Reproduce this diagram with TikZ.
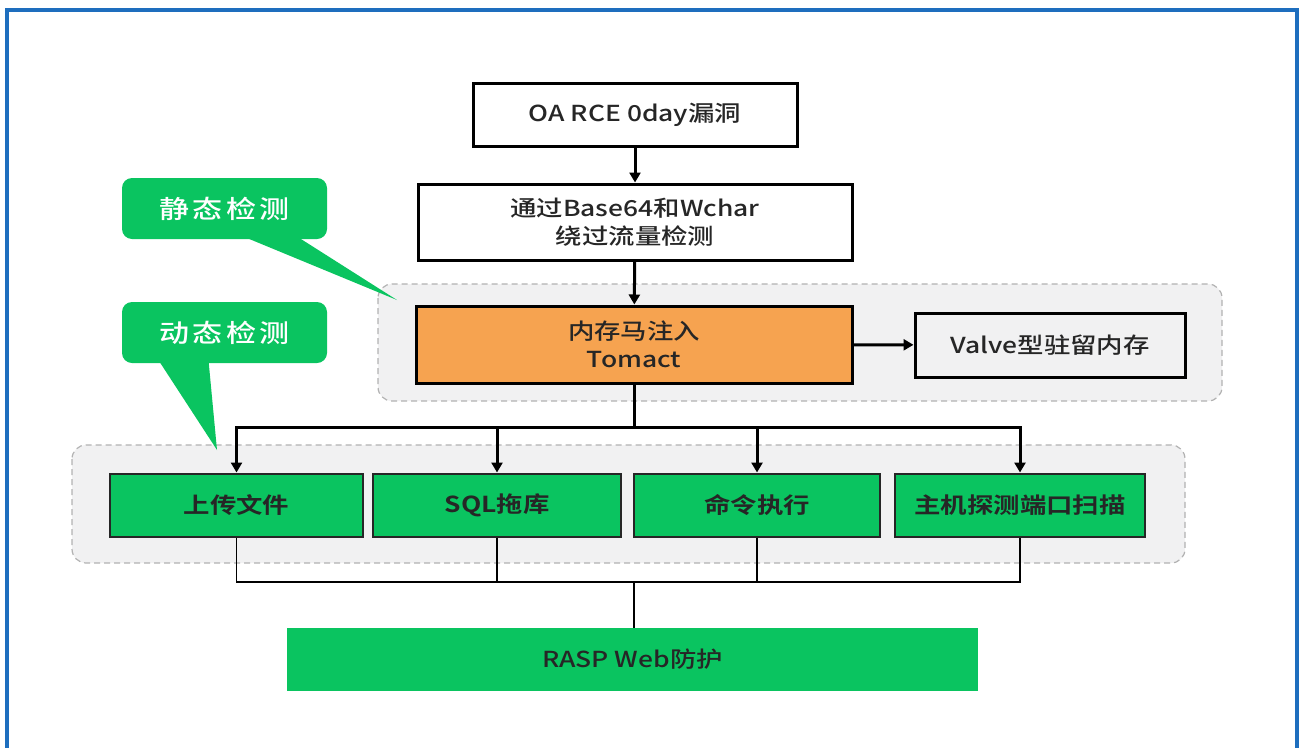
\documentclass[tikz,border=0pt]{standalone}
\usepackage{fontspec}
\setmainfont{Noto Sans CJK SC Medium}[FakeStretch=1.2, BoldFont={Noto Sans CJK SC Bold}]
\newfontfamily\tipfont{Noto Sans CJK SC Medium}[FakeStretch=1.2,LetterSpace=14]
\usepackage{tikz}
\usetikzlibrary{positioning}
\usetikzlibrary{arrows.meta}

\definecolor{wxgreen}{RGB}{10,196,96}
\definecolor{injectorange}{RGB}{246,163,80}
\definecolor{frameblue}{RGB}{30,110,190}
\definecolor{groupgray}{RGB}{241,241,242}

\begin{document}
\begin{tikzpicture}[x=1pt,y=-1pt,
	every node/.style={font=\fontsize{22}{28}\selectfont, align=center, inner sep=0pt, text=black!85},
	plain/.style={draw=black, line width=3pt, fill=white, minimum height=63pt},
	attack/.style={draw=black!85, line width=2pt, fill=wxgreen, minimum height=63pt, font=\fontsize{22}{28}\selectfont\bfseries},
	group/.style={draw=black!30, dash pattern=on 6pt off 4pt, line width=1.2pt, fill=groupgray, rounded corners=14pt},
	flow/.style={line width=3pt, -{Triangle[length=10pt,width=11pt]}},
	link/.style={line width=1.5pt},
	tip/.style={fill=wxgreen, rounded corners=10pt, text=white, minimum width=205pt, minimum height=61pt, font=\fontsize{25}{28}\tipfont}]

	\useasboundingbox (0,0) rectangle (1303,747);
	% Frame %
	\draw [frameblue, line width=4pt] (7,800) -- (7,10) -- (1297,10) -- (1297,800);
	% Groups %
	\draw [group] (378,284) rectangle (1222,401);
	\draw [group] (72,445) rectangle (1185,563);
	% Chain %
	\node [plain, minimum width=324pt] (oa) at (635,114.5) {OA RCE 0day漏洞};
	\node [plain, minimum width=434pt, minimum height=76pt] (bypass) at (635,222) {通过Base64和Wchar\\绕过流量检测};
	\node [plain, fill=injectorange, minimum width=436pt, minimum height=77pt] (inject) at (634,344.5) {内存马注入\\Tomact};
	\node [plain, fill=groupgray, minimum width=270pt, minimum height=64pt] (valve) at (1050,345) {Valve型驻留内存};
	% Attacks %
	\node [attack, minimum width=253pt] (upload) at (236.5,505) {上传文件};
	\node [attack, minimum width=248pt] (sql) at (497,505) {SQL拖库};
	\node [attack, minimum width=246pt] (cmd) at (757,505) {命令执行};
	\node [attack, minimum width=250pt] (scan) at (1020,505) {主机探测端口扫描};
	% Protection %
	\node [fill=wxgreen, minimum width=691pt, minimum height=63pt] (rasp) at (632.5,659.5) {RASP Web防护};
	% Arrows %
	\draw [flow] (oa) -- (bypass);
	\draw [flow] (bypass) -- (inject);
	\draw [flow] (inject) -- (valve);
	\coordinate (split) at (634,427);
	\foreach \n in {upload,sql,cmd,scan} \draw [flow] (inject.south) -- (split) -| (\n.north);
	\coordinate (merge) at (634,582);
	\foreach \n in {upload,sql,cmd,scan} \draw [link] (\n.south) |- (merge);
	\draw [link] (merge) -- (merge |- rasp.north);
	% Callouts %
	\node [tip] (static) at (224.5,208.5) {静态检测};
	\coordinate (statictip) at (397,300);
	\fill [wxgreen] ([xshift=18pt,yshift=3pt]static.south) -- (statictip) -- ([xshift=72pt,yshift=3pt]static.south) -- cycle;
	\node [tip] (dynamic) at (224.5,332.5) {动态检测};
	\coordinate (dynamictip) at (217,450);
	\fill [wxgreen] ([xshift=-66pt,yshift=3pt]dynamic.south) -- (dynamictip) -- ([xshift=-16pt,yshift=3pt]dynamic.south) -- cycle;
\end{tikzpicture}
\end{document}
